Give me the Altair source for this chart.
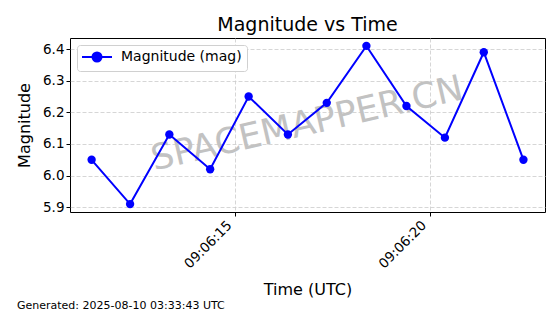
import altair as alt
import pandas as pd

# ---- data ----
date = "2025-08-10"
times = ["09:06:11.300", "09:06:12.290", "09:06:13.300", "09:06:14.350",
         "09:06:15.340", "09:06:16.350", "09:06:17.350", "09:06:18.370",
         "09:06:19.400", "09:06:20.390", "09:06:21.390", "09:06:22.410"]
magnitudes = [6.05, 5.91, 6.13, 6.02, 6.25, 6.13, 6.23, 6.41, 6.22, 6.12, 6.39, 6.05]
x_tick_labels = ["09:06:15", "09:06:20"]
y_ticks = [5.9, 6.0, 6.1, 6.2, 6.3, 6.4]
series_name = "Magnitude (mag)"
title_text = "Magnitude vs Time"
x_title = "Time (UTC)"
y_title = "Magnitude"
watermark = "SPACEMAPPER.CN"
footer = "Generated: 2025-08-10 03:33:43 UTC"

FONT = "DejaVu Sans"

df = pd.DataFrame({
    "time": [f"{date}T{t}Z" for t in times],
    "mag": magnitudes,
    "series": series_name,
})

def to_ms(s):
    return int(pd.Timestamp(s).value // 1_000_000)

t_ms = [to_ms(f"{date}T{t}") for t in times]
t_lo, t_hi = min(t_ms), max(t_ms)
t_pad = (t_hi - t_lo) * 0.05
x_domain = [t_lo - t_pad, t_hi + t_pad]
x_tick_ms = [to_ms(f"{date}T{t}") for t in x_tick_labels]

m_lo, m_hi = min(magnitudes), max(magnitudes)
m_pad = (m_hi - m_lo) * 0.05
y_domain = [m_lo - m_pad, m_hi + m_pad]

legend_path = "M-3,0H3M-0.9,0a0.9,0.9 0 1,0 1.8,0a0.9,0.9 0 1,0 -1.8,0Z"

line = alt.Chart(df).mark_line(
    strokeWidth=2,
    point=alt.OverlayMarkDef(filled=True, size=70, opacity=1),
).encode(
    x=alt.X("time:T",
            scale=alt.Scale(type="utc", domain=x_domain, nice=False),
            axis=alt.Axis(values=x_tick_ms, format="%H:%M:%S", title=x_title,
                          labelAngle=-45, labelAlign="right", labelBaseline="top",
                          labelPadding=2, labelOffset=-11, titlePadding=11, grid=True)),
    y=alt.Y("mag:Q",
            scale=alt.Scale(domain=y_domain, nice=False, zero=False),
            axis=alt.Axis(values=y_ticks, format=".1f", title=y_title,
                          titlePadding=10, grid=True)),
    color=alt.Color("series:N",
                    scale=alt.Scale(range=["#0000ff"]),
                    legend=alt.Legend(title=None, orient="none", legendX=7, legendY=7,
                                      symbolType=legend_path, symbolSize=100,
                                      symbolStrokeWidth=2, symbolFillColor="#0000ff",
                                      symbolStrokeColor="#0000ff", symbolOffset=8,
                                      labelOffset=17, labelFont=FONT, labelFontSize=14,
                                      labelColor="black", padding=5,
                                      strokeColor="#d0d0d0", fillColor="white",
                                      cornerRadius=3)),
)

wm = alt.Chart(pd.DataFrame({"t": [watermark]})).mark_text(
    font=FONT, fontSize=35.5, color="#c2c2c2", angle=347,
    align="center", baseline="middle",
).encode(text="t:N", x=alt.value(237), y=alt.value(86))

foot = alt.Chart(pd.DataFrame({"t": [footer]})).mark_text(
    font=FONT, fontSize=11, color="black", align="left", baseline="alphabetic",
).encode(text="t:N", x=alt.value(-53), y=alt.value(271))

chart = alt.layer(wm, line, foot).properties(
    width=475, height=174,
    title=alt.TitleParams(title_text, font=FONT, fontSize=19, fontWeight="normal",
                          color="black", anchor="middle", offset=3),
    padding={"left": 70, "top": 38, "right": 15, "bottom": 102},
    autosize="none",
).configure_view(
    stroke="black", strokeWidth=1,
).configure_axis(
    labelFont=FONT, labelFontSize=13.5, labelColor="black",
    titleFont=FONT, titleFontSize=16, titleFontWeight="normal", titleColor="black",
    domain=False, tickColor="black", tickSize=4, tickWidth=1,
    gridColor="#cccccc", gridDash=[4, 2], gridWidth=0.8,
)

chart.save("out.html", embed_options={"renderer": "svg", "actions": False})
